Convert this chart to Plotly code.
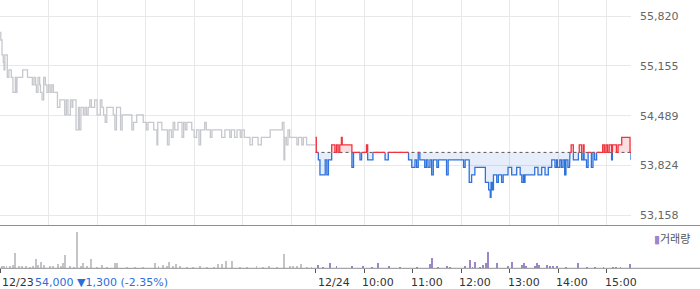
import plotly.graph_objects as go

# ---------------- data ----------------
# x = minutes since 09:00 of 12/23 (12/23 session 0-390, 12/24 session 390-780)
day1_min = [0, 1, 2.5, 4, 5, 6, 9, 11, 14, 16, 19, 20, 21, 28, 34, 40, 42, 44, 45, 47, 49, 50, 52, 54,
            56, 58, 60, 62, 64, 66, 71, 74, 80, 82, 84, 87, 89, 90, 94, 97, 98, 100, 103, 105, 107, 109,
            111, 113, 117, 120, 124, 126, 128, 130, 132, 140, 142, 144, 149, 151, 163, 165, 169, 177,
            181, 183, 190, 194, 195, 200, 207, 209, 212, 214, 216, 220, 225, 227, 229, 231, 237, 240,
            243, 246, 248, 253, 255, 260, 262, 274, 278, 284, 286, 290, 293, 297, 299, 302, 309, 312,
            319, 323, 334, 349, 351, 352, 354, 356, 358, 367, 369, 373, 375, 379, 390]
day1_price = [55600, 55500, 55300, 55200, 55100, 55300, 55000, 55100, 55000, 54800, 55000, 54800, 55000,
              55100, 55000, 54900, 55000, 54900, 54800, 55000, 54900, 54800, 54700, 55000,
              54900, 54800, 54900, 54800, 54900, 54800, 54600, 54700, 54500, 54700, 54500, 54700, 54600,
              54700, 54300, 54600, 54300, 54600, 54500, 54600, 54500, 54600,
              54700, 54600, 54700, 54500, 54700, 54600, 54500, 54400, 54600, 54500, 54300, 54600, 54300,
              54500, 54300, 54400, 54500, 54400,
              54300, 54400, 54300, 54100, 54400, 54300, 54100, 54300, 54200, 54400, 54300, 54400, 54200,
              54400, 54300, 54400, 54300, 54200,
              54300, 54100, 54300, 54400, 54300, 54200, 54300, 54200, 54300, 54200, 54300, 54200, 54300,
              54200, 54300, 54200, 54100, 54200,
              54100, 54200, 54300, 54400, 53900, 54200, 54100, 54300, 54200, 54100, 54200, 54100, 54200,
              54100, 54100]

day2_min = [390, 391, 393.5, 395.5, 402, 404, 406, 410, 414, 416, 418, 420, 422, 423, 435, 437, 445, 447,
            453, 454.5, 461, 476, 480, 505, 509, 513, 515, 517, 519, 525, 527, 529, 531.5, 533.6, 535.6,
            540, 542, 552, 554, 573, 575, 580, 583, 587, 600, 604, 606, 607, 608.5, 610, 614, 616, 620,
            622, 628, 632.5, 638.7, 643, 645, 647, 648, 649, 661, 665, 669.6, 673.7, 677.8, 682, 686,
            688, 689, 692, 694, 696, 698, 699.6, 702, 704, 704.6, 706, 708.7, 715, 716, 719, 721, 722,
            725, 727, 731, 733, 735, 737.5, 745, 747, 749, 751, 753, 756, 757, 762, 764, 768.5, 778.8, 780]
day2_price = [54200, 54000, 53900, 53700, 53900, 53700, 53900, 54100, 54000, 54100, 54000, 54100, 54200,
              54100, 53800, 54000, 53900, 54000,
              54100, 53900, 54000, 53900, 54000, 53900, 53800, 53900, 53800, 54000, 53900, 53800, 53900,
              53800, 53900, 53700, 53900,
              53800, 53900, 53700, 53900, 53800, 53900, 53600, 53700, 53800, 53600, 53500, 53400, 53600,
              53500, 53700, 53600, 53700, 53600,
              53700, 53800, 53700, 53800, 53700, 53600, 53700, 53600, 53700, 53800, 53700, 53800, 53700,
              53800, 53900, 53800,
              53900, 53800, 53900, 53800, 53900, 53700, 53900, 53800, 53900, 54000, 54100, 53900, 54000,
              54100, 53900, 54100, 53900,
              53800, 54000, 53800, 54000, 53900, 54000, 54100, 54000, 54100, 54000, 54100, 53900, 54100,
              54000, 54100, 54200, 54000, 53900]

base_price = 54000

vol1_min = [2, 5, 8, 12, 16, 18, 23, 27, 32, 37, 41, 44.5, 47, 51, 54, 62, 66, 72, 75, 77.5, 80, 87, 91, 95,
            100, 103, 108, 113, 119.5, 126, 132, 142, 145, 157, 167, 177, 192, 196, 202, 206, 209, 214,
            218, 222.5, 231, 239, 247, 255.5, 264, 270, 274, 279, 287, 297, 305, 317, 325.5, 332, 342,
            351, 358.5, 362.5, 367, 372, 379, 385]
vol1 = [2000, 2000, 2000, 2000, 3000, 15700, 2000, 2000, 2000, 1500, 2000, 9000, 3000, 6000, 3000, 2000,
        2500, 4000, 2000, 5700, 13000, 2000, 1500, 36700,
        2000, 5700, 2000, 9000, 1500, 3300, 1500, 5000, 5000, 1500, 1700, 1500, 5000, 2000, 3000, 2000,
        6700, 2000,
        4000, 2000, 1500, 1500, 2700, 1500, 1500, 4000, 4000, 7700, 7700, 1500, 1500, 2700, 1500, 2700,
        1500, 14300, 2000, 2000, 2000, 4000, 1500, 1500]

vol2_min = [393.5, 399.7, 408, 416, 434.7, 449, 459.5, 467.7, 481, 494, 515, 531.5, 534.4, 541.8, 553, 556,
            575, 581, 584, 587, 593, 597.5, 600.7, 603.6, 614.8, 628, 633, 645, 648, 650, 661, 664, 666,
            675.7, 680, 684, 688, 699.6, 715, 726, 735.5, 746, 758, 762, 767, 778.8]
vol2 = [3300, 1500, 5000, 2300, 2300, 2300, 1700, 5700, 2300, 1500, 1500, 4000, 10700, 1700, 2700, 1500,
        2700, 8300, 1700, 6700, 1700, 3300, 5700, 16700, 5000, 2700, 6700, 3300, 5700, 2300, 2700, 5700,
        3300, 3000, 2000, 2000, 2000, 1700, 5700, 1700, 1700, 1700, 1700, 1700, 1700, 4300]

price_ticks = [53158, 53824, 54489, 55155, 55820]
price_tick_text = ["53,158", "53,824", "54,489", "55,155", "55,820"]
grid_minutes = [0, 60, 120, 180, 240, 300, 360, 390, 450, 510, 570, 630, 690, 750]
label_minutes = [0, 390, 450, 510, 570, 630, 690, 750]
label_text = ["12/23", "12/24", "10:00", "11:00", "12:00", "13:00", "14:00", "15:00"]
summary_text = "54,000 ▼1,300 (-2.35%)"
legend_text = "거래량"

# ---------------- styles ----------------
W, H = 700, 289
PLOT_RIGHT = 631
RED = "#f2323c"
BLUE = "#2f72dc"
GRAY_LINE = "#c6c8cd"
PURPLE = "#9a86c9"
GRID = "#e8e8e8"
FONT = "DejaVu Sans"


def px_y(p):
    return 1 - p / H


# split the day-2 step line into red (>= base) and blue (< base) polylines
def split_step(xs, ys, base):
    pts = []
    for i in range(len(xs)):
        if i > 0:
            pts.append((xs[i], ys[i - 1]))
        pts.append((xs[i], ys[i]))
    red, blue = [], []

    def add(lst, a, b):
        if lst and lst[-1] == a:
            lst.append(b)
        else:
            if lst:
                lst.append(None)
            lst.append(a)
            lst.append(b)

    for a, b in zip(pts[:-1], pts[1:]):
        if a == b:
            continue
        ya, yb = a[1], b[1]
        lo, hi = min(ya, yb), max(ya, yb)
        if lo < base < hi:
            m = (a[0], base)
            for s, e in ((a, m), (m, b)):
                add(red if min(s[1], e[1]) >= base else blue, s, e)
        else:
            add(red if lo >= base else blue, a, b)

    def unzip(lst):
        return ([p[0] if p else None for p in lst], [p[1] if p else None for p in lst])

    return unzip(red), unzip(blue)


fig = go.Figure()

# day 1 grey line
fig.add_trace(go.Scatter(x=day1_min, y=day1_price, mode="lines", line=dict(color=GRAY_LINE, width=1.3, shape="hv"),
                         hoverinfo="skip", showlegend=False, xaxis="x", yaxis="y"))

# day 2 fills
base_arr = [base_price] * len(day2_min)
upper = [max(p, base_price) for p in day2_price]
lower = [min(p, base_price) for p in day2_price]
fig.add_trace(go.Scatter(x=day2_min, y=base_arr, mode="lines", line=dict(width=0, shape="hv"),
                         hoverinfo="skip", showlegend=False))
fig.add_trace(go.Scatter(x=day2_min, y=upper, mode="lines", line=dict(width=0, shape="hv"), fill="tonexty",
                         fillcolor="rgba(242,50,60,0.16)", hoverinfo="skip", showlegend=False))
fig.add_trace(go.Scatter(x=day2_min, y=base_arr, mode="lines", line=dict(width=0, shape="hv"),
                         hoverinfo="skip", showlegend=False))
fig.add_trace(go.Scatter(x=day2_min, y=lower, mode="lines", line=dict(width=0, shape="hv"), fill="tonexty",
                         fillcolor="rgba(47,114,220,0.12)", hoverinfo="skip", showlegend=False))

# baseline dotted
fig.add_trace(go.Scatter(x=[day2_min[0], day2_min[-1]], y=[base_price, base_price], mode="lines",
                         line=dict(color="#555555", width=1, dash="dot"), hoverinfo="skip", showlegend=False))

(rx, ry), (bx, by) = split_step(day2_min, day2_price, base_price)
fig.add_trace(go.Scatter(x=bx, y=by, mode="lines", line=dict(color=BLUE, width=1.3),
                         hoverinfo="skip", showlegend=False, connectgaps=False))
fig.add_trace(go.Scatter(x=rx, y=ry, mode="lines", line=dict(color=RED, width=1.3),
                         hoverinfo="skip", showlegend=False, connectgaps=False))

# volume
fig.add_trace(go.Bar(x=vol1_min, y=vol1, width=1.1, marker=dict(color="#c4c4c8", line=dict(width=0)),
                     xaxis="x2", yaxis="y2", hoverinfo="skip", showlegend=False))
fig.add_trace(go.Bar(x=vol2_min, y=vol2, width=1.1, marker=dict(color=PURPLE, line=dict(width=0)),
                     xaxis="x2", yaxis="y2", hoverinfo="skip", showlegend=False))

# axis ranges from gridline pixel positions
py_top, py_bot = 16, 215.5
per_px = (price_ticks[-1] - price_ticks[0]) / (py_bot - py_top)
y_max = price_ticks[-1] + py_top * per_px
y_min = price_ticks[0] - (225.5 - py_bot) * per_px

fig.update_layout(
    width=W, height=H, margin=dict(l=0, r=W - PLOT_RIGHT, t=0, b=0),
    paper_bgcolor="white", plot_bgcolor="white", bargap=0,
    font=dict(family=FONT, size=11, color="#666666"),
    xaxis=dict(domain=[0, 1], range=[0, 780], tickvals=grid_minutes, showticklabels=False, ticks="",
               showgrid=True, gridcolor=GRID, gridwidth=1, zeroline=False, showline=False, anchor="y"),
    yaxis=dict(domain=[px_y(225.5), 1], range=[y_min, y_max], side="right", tickvals=price_ticks,
               ticktext=price_tick_text, showgrid=True, gridcolor=GRID, zeroline=False, ticks="",
               ticklabelstandoff=8, tickfont=dict(family=FONT, size=11, color="#666666"), anchor="x"),
    xaxis2=dict(domain=[0, 1], range=[0, 780], tickvals=label_minutes, showticklabels=False,
                ticks="outside", ticklen=4, tickcolor="#555555", showgrid=False, zeroline=False,
                showline=False, anchor="y2", matches="x"),
    yaxis2=dict(domain=[px_y(268.3), px_y(226)], range=[0, 42300], showticklabels=False, showgrid=False,
                zeroline=False, ticks="", anchor="x2"),
)

# panel separator / axis lines spanning full width
for yy in (225.5, 268.3):
    fig.add_shape(type="line", xref="paper", yref="paper", x0=0, x1=W / PLOT_RIGHT,
                  y0=(H - yy) / H, y1=(H - yy) / H, line=dict(color="#8f8f8f", width=1))

# x labels (left aligned on their ticks)
for m, t in zip(label_minutes, label_text):
    shift = 0 if "/" in t else -4
    fig.add_annotation(x=m, xref="x2", y=(H - 282) / H, yref="paper", text=t, showarrow=False,
                       xanchor="left", yanchor="middle", xshift=shift,
                       font=dict(family=FONT, size=11, color="#333333"))

fig.add_annotation(x=33 / PLOT_RIGHT, xref="paper", y=(H - 282) / H, yref="paper", text=summary_text,
                   showarrow=False, xanchor="left", yanchor="middle",
                   font=dict(family=FONT, size=11, color="#2a6edb"))

# legend
fig.add_annotation(x=652 / PLOT_RIGHT, xref="paper", y=(H - 238) / H, yref="paper",
                   text='<span style="color:%s">▮</span>%s' % (PURPLE, legend_text), showarrow=False,
                   xanchor="left", yanchor="middle",
                   font=dict(family="Noto Sans CJK KR", size=11, color="#555555"))

fig.write_html("out.html")
